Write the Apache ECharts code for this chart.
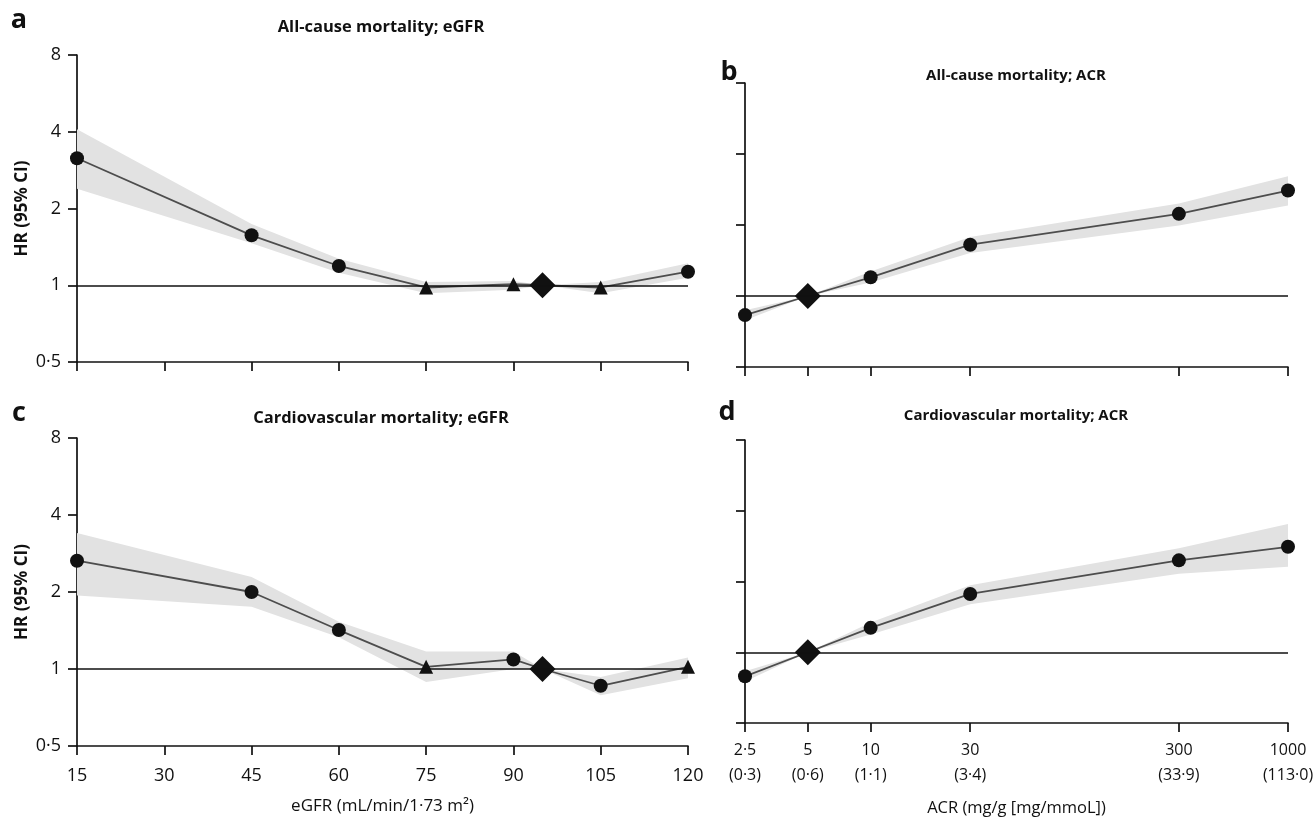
<!DOCTYPE html>
<html>
<head>
<meta charset="utf-8">
<script src="https://cdn.jsdelivr.net/npm/echarts@6/dist/echarts.min.js"></script>
<style>
html, body { margin: 0; padding: 0; background: #fff; }
#chart { width: 1313px; height: 820px; }
</style>
</head>
<body>
<div id="chart"></div>
<script>
// eGFR panels (a, c)
var egfrX = [15, 45, 60, 75, 90, 95, 105, 120];

var allEgfrKind = ['sig', 'sig', 'sig', 'ns', 'ns', 'ref', 'ns', 'sig'];
var allEgfrHR = [3.15, 1.57, 1.19, 0.98, 1.01, 1.0, 0.98, 1.13];
var allEgfrLo = [2.39, 1.46, 1.12, 0.93, 0.96, 1.0, 0.93, 1.07];
var allEgfrHi = [4.09, 1.74, 1.27, 1.03, 1.04, 1.0, 1.03, 1.22];

var cvEgfrKind = ['sig', 'sig', 'sig', 'ns', 'sig', 'ref', 'sig', 'ns'];
var cvEgfrHR = [2.65, 2.0, 1.42, 1.02, 1.09, 1.0, 0.86, 1.02];
var cvEgfrLo = [1.94, 1.75, 1.33, 0.89, 1.0, 1.0, 0.79, 0.92];
var cvEgfrHi = [3.40, 2.29, 1.53, 1.17, 1.17, 1.0, 0.93, 1.11];

// ACR panels (b, d)
var acrX = [2.5, 5, 10, 30, 300, 1000];
var acrKind = ['sig', 'ref', 'sig', 'sig', 'sig', 'sig'];
var acrTickLabels = ['2·5', '5', '10', '30', '300', '1000'];
var acrMmolLabels = ['(0·3)', '(0·6)', '(1·1)', '(3·4)', '(33·9)', '(113·0)'];

var allAcrHR = [0.83, 1.0, 1.20, 1.65, 2.23, 2.80];
var allAcrLo = [0.79, 1.0, 1.14, 1.52, 1.99, 2.42];
var allAcrHi = [0.87, 1.0, 1.27, 1.78, 2.47, 3.22];

var cvAcrHR = [0.79, 1.0, 1.27, 1.77, 2.46, 2.81];
var cvAcrLo = [0.75, 1.0, 1.19, 1.60, 2.16, 2.31];
var cvAcrHi = [0.83, 1.0, 1.34, 1.93, 2.77, 3.51];

// HR axis
var hrTicks = [0.5, 1, 2, 4, 8];
var hrTickLabels = ['0·5', '1', '2', '4', '8'];

var FONT = '"Open Sans", "DejaVu Sans", sans-serif';
var INK = '#111';

function nearest(arr, v) {
    var best = 0;
    for (var i = 1; i < arr.length; i++) {
        if (Math.abs(Math.log(arr[i] / v)) < Math.abs(Math.log(arr[best] / v))) best = i;
    }
    return best;
}

var symbolOf = { sig: 'circle', ns: 'triangle', ref: 'diamond' };
var sizeOf = { sig: 14, ns: 14, ref: 26 };

function bandSeries(idx, xs, lo, hi) {
    return {
        type: 'custom',
        xAxisIndex: idx,
        yAxisIndex: idx,
        z: 1,
        silent: true,
        animation: false,
        data: xs.map(function (x, i) { return [x, lo[i], hi[i]]; }),
        encode: { x: 0, y: [1, 2] },
        renderItem: function (params, api) {
            if (params.dataIndex !== 0) return null;
            var pts = [];
            for (var i = 0; i < xs.length; i++) pts.push(api.coord([xs[i], hi[i]]));
            for (var j = xs.length - 1; j >= 0; j--) pts.push(api.coord([xs[j], lo[j]]));
            return { type: 'polygon', shape: { points: pts }, style: { fill: '#e2e2e2' } };
        }
    };
}

function lineSeries(idx, xs, hr, kinds) {
    return {
        type: 'line',
        xAxisIndex: idx,
        yAxisIndex: idx,
        z: 3,
        animation: false,
        showAllSymbol: true,
        data: xs.map(function (x, i) {
            return { value: [x, hr[i]], symbol: symbolOf[kinds[i]], symbolSize: sizeOf[kinds[i]] };
        }),
        lineStyle: { color: '#4d4d4d', width: 1.8 },
        itemStyle: { color: INK, borderWidth: 0 },
        markLine: {
            silent: true,
            symbol: 'none',
            animation: false,
            label: { show: false },
            lineStyle: { color: INK, width: 1.6, type: 'solid' },
            data: [{ yAxis: 1 }]
        }
    };
}

var axisLine = { onZero: false, lineStyle: { color: INK, width: 1.7 } };
var axisTick = { show: true, length: 9, lineStyle: { color: INK, width: 1.7 } };
var labelFont = { color: INK, fontFamily: FONT, fontSize: 18 };

function hrAxis(idx, showLabels) {
    return {
        type: 'log',
        logBase: 2,
        gridIndex: idx,
        min: 0.5,
        max: 8,
        axisLine: axisLine,
        axisTick: Object.assign({ customValues: hrTicks }, axisTick),
        splitLine: { show: false },
        axisLabel: Object.assign({
            show: showLabels,
            customValues: hrTicks,
            margin: 16,
            formatter: function (v) { return hrTickLabels[nearest(hrTicks, v)]; }
        }, labelFont),
        name: showLabels ? 'HR (95% CI)' : '',
        nameLocation: 'middle',
        nameRotate: 90,
        nameGap: 46,
        nameTextStyle: { color: INK, fontFamily: FONT, fontSize: 17, fontWeight: 'bold' }
    };
}

function egfrAxis(idx, showLabels) {
    return {
        type: 'value',
        gridIndex: idx,
        min: 15,
        max: 120,
        interval: 15,
        axisLine: axisLine,
        axisTick: axisTick,
        splitLine: { show: false },
        axisLabel: Object.assign({ show: showLabels, margin: 21 }, labelFont),
        name: showLabels ? 'eGFR (mL/min/1·73 m²)' : '',
        nameLocation: 'middle',
        nameGap: 52,
        nameTextStyle: { color: INK, fontFamily: FONT, fontSize: 17 }
    };
}

function acrAxis(idx, showLabels) {
    return {
        type: 'log',
        logBase: 10,
        gridIndex: idx,
        min: 2.5,
        max: 1000,
        axisLine: axisLine,
        axisTick: Object.assign({ customValues: acrX }, axisTick),
        splitLine: { show: false },
        axisLabel: Object.assign({
            show: showLabels,
            customValues: acrX,
            margin: 15,
            lineHeight: 25,
            formatter: function (v) {
                var k = nearest(acrX, v);
                return acrTickLabels[k] + '\n' + acrMmolLabels[k];
            }
        }, labelFont, { fontSize: 16 }),
        name: showLabels ? 'ACR (mg/g [mg/mmoL])' : '',
        nameLocation: 'middle',
        nameGap: 77,
        nameTextStyle: { color: INK, fontFamily: FONT, fontSize: 16.5 }
    };
}

function text(x, y, str, size, weight) {
    return {
        type: 'text',
        x: x,
        y: y,
        z: 10,
        style: {
            text: str,
            fill: INK,
            fontFamily: FONT,
            fontSize: size,
            fontWeight: weight,
            align: 'center',
            verticalAlign: 'middle'
        }
    };
}

var myChart = echarts.init(document.getElementById('chart'));
myChart.setOption({
    animation: false,
    backgroundColor: '#fff',
    grid: [
        { left: 77, top: 55, width: 611, height: 307, containLabel: false, outerBoundsMode: 'none' },
        { left: 745, top: 83, width: 543, height: 284, containLabel: false, outerBoundsMode: 'none' },
        { left: 77, top: 438, width: 611, height: 308, containLabel: false, outerBoundsMode: 'none' },
        { left: 745, top: 440, width: 543, height: 283, containLabel: false, outerBoundsMode: 'none' }
    ],
    xAxis: [egfrAxis(0, false), acrAxis(1, false), egfrAxis(2, true), acrAxis(3, true)],
    yAxis: [hrAxis(0, true), hrAxis(1, false), hrAxis(2, true), hrAxis(3, false)],
    graphic: [
        text(19, 20, 'a', 27, 'bold'),
        text(381, 27, 'All-cause mortality; eGFR', 16.5, 'bold'),
        text(729, 72, 'b', 27, 'bold'),
        text(1016, 76, 'All-cause mortality; ACR', 15, 'bold'),
        text(19, 413, 'c', 27, 'bold'),
        text(381, 418, 'Cardiovascular mortality; eGFR', 16.5, 'bold'),
        text(727, 412, 'd', 27, 'bold'),
        text(1016, 416, 'Cardiovascular mortality; ACR', 15, 'bold')
    ],
    series: [
        bandSeries(0, egfrX, allEgfrLo, allEgfrHi),
        lineSeries(0, egfrX, allEgfrHR, allEgfrKind),
        bandSeries(1, acrX, allAcrLo, allAcrHi),
        lineSeries(1, acrX, allAcrHR, acrKind),
        bandSeries(2, egfrX, cvEgfrLo, cvEgfrHi),
        lineSeries(2, egfrX, cvEgfrHR, cvEgfrKind),
        bandSeries(3, acrX, cvAcrLo, cvAcrHi),
        lineSeries(3, acrX, cvAcrHR, acrKind)
    ]
});
</script>
</body>
</html>
